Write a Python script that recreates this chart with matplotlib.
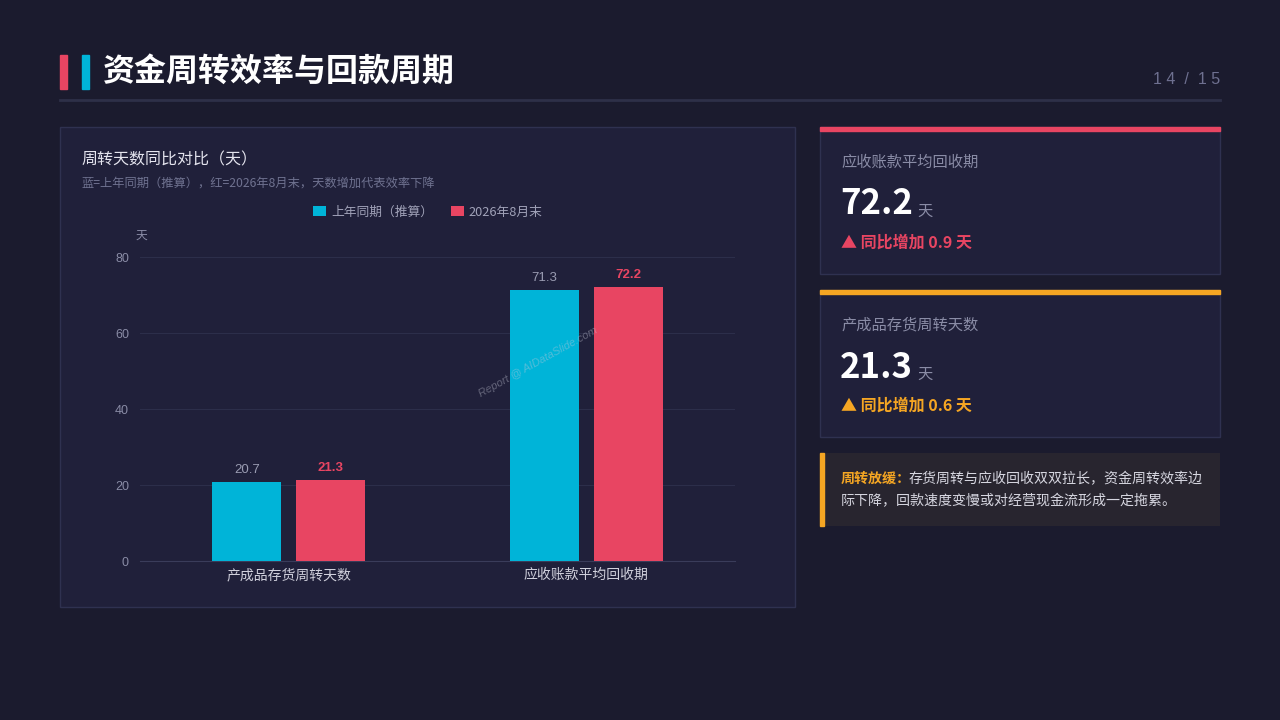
import matplotlib
matplotlib.use("Agg")
import matplotlib.pyplot as plt
from matplotlib.patches import Rectangle
import numpy as np

plt.rcParams['font.family'] = ['Noto Sans CJK SC', 'DejaVu Sans']
NUM_FONT = ['Liberation Sans', 'DejaVu Sans']

# data
categories = ['产成品存货周转天数', '应收账款平均回收期']
last_year = [20.7, 71.3]
current = [21.3, 72.2]
series_names = ['上年同期（推算）', '2026年8月末']
y_ticks = [0, 20, 40, 60, 80]

card_labels = ['应收账款平均回收期', '产成品存货周转天数']
card_values = ['72.2', '21.3']
card_changes = ['▲ 同比增加 0.9 天', '▲ 同比增加 0.6 天']

BG = '#1b1b2e'
PANEL = '#20203a'
BORDER = '#2f3150'
BLUE = '#00b4d8'
RED = '#e84562'
ORANGE = '#f5a623'
GRAY = '#8a8ca6'

W, H = 1280, 720
fig = plt.figure(figsize=(12.8, 7.2), dpi=100, facecolor=BG)

# overlay axes in pixel coordinates
bg = fig.add_axes([0, 0, 1, 1], zorder=0)
bg.set_xlim(0, W)
bg.set_ylim(H, 0)
bg.axis('off')

# header
bg.add_patch(Rectangle((60, 55), 7, 34, color=RED))
bg.add_patch(Rectangle((82, 55), 7, 34, color=BLUE))
bg.text(103, 72, '资金周转效率与回款周期', color='white', fontsize=23,
        fontweight='bold', va='center', ha='left')
bg.plot([60, 1220], [100, 100], color='#2e3048', lw=2)
bg.text(1220, 80, '1 4  /  1 5', color='#6e7090', fontsize=11.5,
        ha='right', va='center', family=NUM_FONT)

# chart panel
bg.add_patch(Rectangle((60, 127), 735, 480, facecolor=PANEL,
                       edgecolor=BORDER, lw=1))
bg.text(81, 160, '周转天数同比对比（天）', color='#e4e4ee', fontsize=11.5,
        va='center')
bg.text(81, 183, '蓝=上年同期（推算），红=2026年8月末，天数增加代表效率下降',
        color='#6f7290', fontsize=8.8, va='center')
bg.text(141, 235, '天', color=GRAY, fontsize=8.5, va='center', ha='center')

# kpi cards
card_tops = [127, 290]
card_colors = [RED, ORANGE]
fig.canvas.draw()
renderer = fig.canvas.get_renderer()
inv = bg.transData.inverted()
for top, col, lab, val, chg in zip(card_tops, card_colors, card_labels,
                                   card_values, card_changes):
    bg.add_patch(Rectangle((820, top), 400, 147, facecolor=PANEL,
                           edgecolor=BORDER, lw=1))
    bg.add_patch(Rectangle((820, top), 400, 4, color=col))
    bg.text(841, top + 35, lab, color=GRAY, fontsize=11, va='center')
    t = bg.text(840, top + 77, val, color='white', fontsize=25,
                fontweight='bold', va='center')
    ext = t.get_window_extent(renderer)
    x_end = inv.transform((ext.x1, ext.y0))[0]
    bg.text(x_end + 4, top + 84, '天', color=GRAY, fontsize=11, va='center')
    bg.text(841, top + 116, chg, color=col, fontsize=11.5,
            fontweight='bold', va='center')

# note card
bg.add_patch(Rectangle((820, 453), 400, 73, facecolor='#28252f',
                       edgecolor='none'))
bg.add_patch(Rectangle((820, 453), 4, 73, color=ORANGE))
t = bg.text(841, 479, '周转放缓：', color=ORANGE, fontsize=10.1,
            fontweight='bold', va='center')
ext = t.get_window_extent(renderer)
x_end = inv.transform((ext.x1, ext.y0))[0]
bg.text(x_end - 2, 479, '存货周转与应收回收双双拉长，资金周转效率边',
        color='#d6d6e0', fontsize=10.1, va='center')
bg.text(841, 501, '际下降，回款速度变慢或对经营现金流形成一定拖累。',
        color='#d6d6e0', fontsize=10.1, va='center')

# bar chart axes: x 140..735, y 257..561 (pixels)
ax = fig.add_axes([140 / W, 1 - 561 / H, 595 / W, 304 / H], zorder=2)
ax.set_facecolor('none')
x = np.arange(len(categories))
bw = 0.232
off = 0.141
b1 = ax.bar(x - off, last_year, bw, color=BLUE, label=series_names[0],
            zorder=3)
b2 = ax.bar(x + off, current, bw, color=RED, label=series_names[1], zorder=3)
for rect, v in zip(b1, last_year):
    ax.text(rect.get_x() + rect.get_width() / 2, v + 1.6, f'{v}',
            color='#9a9cb2', fontsize=9.5, ha='center', va='bottom',
            family=NUM_FONT)
for rect, v in zip(b2, current):
    ax.text(rect.get_x() + rect.get_width() / 2, v + 1.6, f'{v}',
            color=RED, fontsize=9.5, fontweight='bold', ha='center',
            va='bottom', family=NUM_FONT)
ax.set_xlim(-0.5, 1.5)
ax.set_ylim(0, 80)
ax.set_yticks(y_ticks)
ax.set_xticks(x)
ax.set_xticklabels(categories)
for lbl in ax.get_yticklabels():
    lbl.set_family(NUM_FONT)
ax.tick_params(axis='x', colors='#d0d0dc', labelsize=10, length=0, pad=5)
ax.tick_params(axis='y', colors=GRAY, labelsize=9, length=0, pad=8)
ax.grid(axis='y', color='#2c2e4a', lw=0.8, zorder=0)
for s in ['top', 'right', 'left']:
    ax.spines[s].set_visible(False)
ax.spines['bottom'].set_color('#3a3c5a')

fig.legend(loc='center', bbox_to_anchor=(428 / W, 1 - 212 / H), ncol=2,
           frameon=False, fontsize=9.2, labelcolor='#a0a2b8',
           handlelength=1.0, handleheight=0.8, columnspacing=1.4,
           handletextpad=0.4)

# watermark, drawn above the bars
fig.text(538 / W, 1 - 362 / H, 'Report @ AIDataSlide.com', color='#c8cad8',
         alpha=0.4, fontsize=8, rotation=29, ha='center', va='center',
         zorder=10, fontstyle='italic', family=NUM_FONT)

fig.savefig('out.png', dpi=100, facecolor=BG)
